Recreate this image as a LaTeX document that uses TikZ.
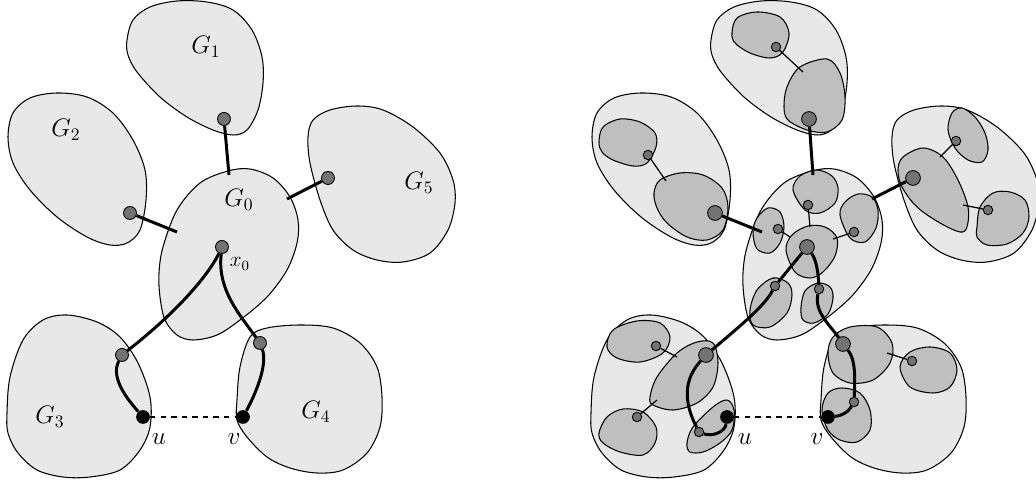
\documentclass[tikz,border=0pt]{standalone}
\begin{document}
\begin{tikzpicture}[x=0.02cm,y=-0.02cm,
  outer/.style={draw=black,line width=0.6pt,fill=black!9},
  inner/.style={draw=black,line width=0.6pt,fill=black!25},
  gdot/.style={circle,draw=black,line width=0.5pt,fill=black!55,inner sep=0pt,minimum size=7.4pt},
  sdot/.style={gdot,minimum size=5.4pt},
  bdot/.style={gdot,minimum size=8.4pt},
  bvert/.style={circle,fill=black,inner sep=0pt,minimum size=7.8pt},
  tedge/.style={line width=1.7pt},
  thedge/.style={line width=0.7pt},
  lab/.style={font=\fontsize{14}{16}\selectfont},
  blob/.style={smooth cycle,tension=0.55},
  iblob/.style={smooth cycle,tension=0.55}]
\useasboundingbox (0,0) rectangle (1036,482);
% ---------- outer blobs, both pictures ----------
\foreach \s in {0,584}{
\begin{scope}[shift={(\s,0)}]
\draw[outer] plot[blob] coordinates {(127,40) (133,20) (150,7) (177,1) (207,2) (233,10) (252,30) (262,57) (263,83) (258,110) (247,130) (233,135) (213,130) (187,117) (160,97) (137,72) (128,55)};
\draw[outer] plot[blob] coordinates {(8,137) (13,113) (30,98) (57,93) (87,97) (113,113) (133,140) (145,170) (146,200) (140,230) (127,243) (110,245) (87,237) (57,217) (30,190) (13,163)};
\draw[outer] plot[blob] coordinates {(163,247) (177,210) (200,183) (228,171) (250,169) (273,178) (290,197) (298,220) (297,243) (287,270) (267,297) (240,320) (217,335) (193,340) (177,335) (165,320) (160,297) (159,273)};
\draw[outer] plot[blob] coordinates {(308,137) (313,120) (330,110) (357,106) (383,110) (413,127) (440,153) (453,180) (455,203) (448,230) (430,253) (403,262) (377,260) (353,250) (333,230) (320,200) (310,163)};
\draw[outer] plot[blob] coordinates {(7,413) (10,377) (23,340) (43,320) (67,315) (97,322) (120,337) (138,363) (150,397) (150,427) (140,450) (120,470) (90,477) (63,477) (37,470) (18,453) (8,433)};
\draw[outer] plot[blob] coordinates {(237,400) (240,367) (250,337) (267,328) (300,325) (333,328) (360,343) (377,367) (382,397) (380,427) (367,453) (343,470) (317,473) (290,468) (267,457) (247,437) (237,420)};
\end{scope}}
% ---------- inner blobs (right picture) ----------
% G1'
\draw[inner] plot[iblob] coordinates {(732,33) (737,18) (757,12) (780,17) (789,33) (783,52) (770,58) (750,53) (735,43)};
\draw[inner] plot[iblob] coordinates {(784,107) (787,87) (800,67) (827,59) (840,73) (845,97) (842,120) (827,132) (807,130) (788,120)};
% G2'
\draw[inner] plot[iblob] coordinates {(599,142) (603,127) (620,119) (640,122) (655,133) (656,147) (647,163) (633,166) (613,160) (602,152)};
\draw[inner] plot[iblob] coordinates {(654,193) (660,180) (680,173) (703,175) (722,188) (728,207) (723,230) (707,240) (687,237) (667,223) (657,208)};
% G5'
\draw[inner] plot[iblob] coordinates {(898,170) (903,157) (923,148) (943,157) (958,180) (968,207) (967,227) (960,232) (940,223) (917,207) (902,187)};
\draw[inner] plot[iblob] coordinates {(948,130) (952,113) (962,108) (975,117) (985,133) (988,150) (982,162) (968,160) (955,148)};
\draw[inner] plot[iblob] coordinates {(977,227) (980,207) (993,193) (1010,192) (1025,200) (1029,217) (1023,233) (1007,244) (987,245) (977,237)};
% G0'
\draw[inner] plot[iblob] coordinates {(793,190) (800,176) (817,170) (832,176) (838,188) (835,203) (820,213) (805,210)};
\draw[inner] plot[iblob] coordinates {(786,250) (792,235) (808,226) (825,227) (837,238) (835,256) (823,272) (810,278) (795,272)};
\draw[inner] plot[iblob] coordinates {(753,232) (757,218) (768,208) (780,212) (784,227) (780,243) (770,253) (757,249)};
\draw[inner] plot[iblob] coordinates {(840,215) (845,202) (858,194) (872,197) (878,210) (876,228) (865,242) (850,238)};
\draw[inner] plot[iblob] coordinates {(750,310) (757,290) (773,278) (788,283) (792,295) (787,313) (770,327) (753,325)};
\draw[inner] plot[iblob] coordinates {(801,308) (805,291) (818,283) (830,287) (833,298) (828,314) (814,323) (803,320)};
% G3'
\draw[inner] plot[iblob] coordinates {(607,347) (613,330) (637,321) (660,323) (670,337) (663,353) (640,362) (617,358)};
\draw[inner] plot[iblob] coordinates {(650,397) (657,377) (677,353) (697,342) (713,343) (718,363) (713,387) (697,403) (673,410) (653,405)};
\draw[inner] plot[iblob] coordinates {(599,433) (607,417) (623,409) (643,412) (656,427) (655,443) (643,455) (620,452) (603,443)};
\draw[inner] plot[iblob] coordinates {(687,443) (693,427) (713,407) (727,400) (734,410) (732,430) (720,443) (703,452) (690,452)};
% G4'
\draw[inner] plot[iblob] coordinates {(828,353) (833,337) (850,327) (877,327) (892,343) (890,363) (873,380) (850,383) (833,373)};
\draw[inner] plot[iblob] coordinates {(900,367) (910,352) (930,347) (950,353) (957,370) (950,387) (933,393) (910,387)};
\draw[inner] plot[iblob] coordinates {(822,410) (828,393) (842,388) (860,393) (870,410) (870,430) (857,442) (840,440) (828,430)};
% ---------- left picture: vertices ----------
\node[gdot] (a1) at (224,119) {};
\node[gdot] (a2) at (130,213) {};
\node[gdot] (a5) at (328,178) {};
\node[gdot] (x0) at (222,247) {};
\node[gdot] (a3) at (122,355) {};
\node[gdot] (a4) at (260,343) {};
\node[bvert] (u) at (143,417) {};
\node[bvert] (v) at (243,417) {};
\coordinate (c1) at (229,175);
\coordinate (c2) at (177,232);
\coordinate (c5) at (287,199);
\draw[tedge] (a1) -- (c1);
\draw[tedge] (a2) -- (c2);
\draw[tedge] (a5) -- (c5);
\draw[tedge] (x0) .. controls (210,272) and (182,308) .. (a3);
\draw[tedge] (x0) .. controls (217,290) and (240,315) .. (a4);
\draw[tedge] (a3) .. controls (110,378) and (128,400) .. (u);
\draw[tedge] (a4) .. controls (268,365) and (255,395) .. (v);
\draw[dashed,line width=0.6pt] (u) -- (v);
\node[lab] (lG1) at (206,47) {$G_1$};
\node[lab] (lG2) at (66,130) {$G_2$};
\node[lab] (lG0) at (239,200) {$G_0$};
\node[lab] (lG5) at (419,183) {$G_5$};
\node[lab] (lG3) at (50,417) {$G_3$};
\node[lab] (lG4) at (316,412) {$G_4$};
\node[font=\fontsize{12}{14}\selectfont] (lx0) at (240,264) {$x_0$};
\node[lab] (lu) at (159,439) {$u$};
\node[lab] (lv) at (234,439) {$v$};
% ---------- right picture: vertices ----------
\node[sdot] (b1a) at (776,47) {};
\node[bdot] (b1) at (809,119) {};
\node[sdot] (b2a) at (648,155) {};
\node[bdot] (b2) at (715,213) {};
\node[bdot] (b5) at (913,178) {};
\node[sdot] (b5a) at (956,141) {};
\node[sdot] (b5b) at (988,210) {};
\node[sdot] (b0t) at (808,205) {};
\node[bdot] (b0) at (807,247) {};
\node[sdot] (b0l) at (778,229) {};
\node[sdot] (b0r) at (854,232) {};
\node[sdot] (b0ll) at (775,286) {};
\node[sdot] (b0lr) at (819,289) {};
\node[sdot] (b3a) at (656,346) {};
\node[bdot] (b3) at (706,355) {};
\node[sdot] (b3b) at (637,417) {};
\node[sdot] (b3s) at (699,432) {};
\node[bvert] (u2) at (727,417) {};
\node[bdot] (b4) at (843,344) {};
\node[sdot] (b4r) at (912,361) {};
\node[sdot] (b4b) at (854,402) {};
\node[bvert] (v2) at (828,417) {};
\coordinate (d1a) at (803,72);
\coordinate (d1) at (813,175);
\coordinate (d2a) at (666,181);
\coordinate (d2) at (762,232);
\coordinate (d5) at (872,199);
\coordinate (d5a) at (940,157);
\coordinate (d5b) at (963,205);
\coordinate (d0t) at (810,227);
\coordinate (d0l) at (790,237);
\coordinate (d0r) at (833,239);
\coordinate (d3a) at (677,357);
\coordinate (d3b) at (657,400);
\coordinate (d4r) at (887,353);
\draw[thedge] (b1a) -- (d1a);
\draw[tedge] (b1) -- (d1);
\draw[thedge] (b2a) -- (d2a);
\draw[tedge] (b2) -- (d2);
\draw[tedge] (b5) -- (d5);
\draw[thedge] (b5a) -- (d5a);
\draw[thedge] (b5b) -- (d5b);
\draw[thedge] (b0t) -- (d0t);
\draw[thedge] (b0l) -- (d0l);
\draw[thedge] (b0r) -- (d0r);
\draw[thedge] (b3a) -- (d3a);
\draw[thedge] (b3b) -- (d3b);
\draw[thedge] (b4r) -- (d4r);
\draw[tedge] (b0) -- (b0ll);
\draw[tedge] (b0ll) .. controls (765,305) and (745,322) .. (b3);
\draw[tedge] (b0) .. controls (815,258) and (818,268) .. (b0lr);
\draw[tedge] (b0lr) .. controls (814,312) and (830,325) .. (b4);
\draw[tedge] (b3) .. controls (688,375) and (680,395) .. (b3s);
\draw[tedge] (b3s) .. controls (712,437) and (725,432) .. (u2);
\draw[tedge] (b4) .. controls (856,360) and (855,380) .. (b4b);
\draw[tedge] (b4b) .. controls (848,413) and (840,416) .. (v2);
\draw[dashed,line width=0.6pt] (u2) -- (v2);
\node[lab] (lu2) at (745,439) {$u$};
\node[lab] (lv2) at (817,439) {$v$};
\end{tikzpicture}
\end{document}
